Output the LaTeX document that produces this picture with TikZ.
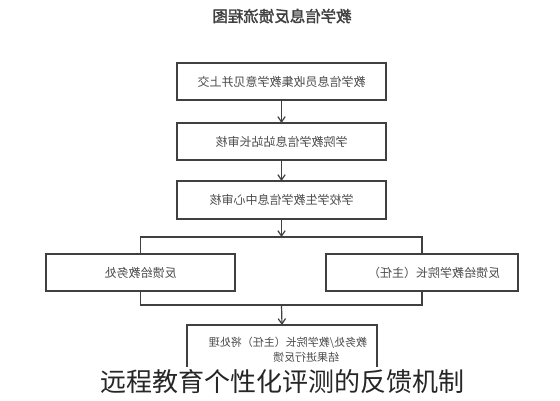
\documentclass[tikz,border=0pt]{standalone}
\usepackage{fontspec}
\usetikzlibrary{arrows.meta}
\newfontfamily\cjk{Noto Sans CJK SC}
\newfontfamily\cjkb[FakeBold=2]{Noto Sans CJK SC}
\newcommand\mirtxt[1]{\scalebox{-1}[1]{#1}}
\begin{document}
\begin{tikzpicture}[x=0.75pt,y=-0.75pt,
  box/.style={draw=black!75,line width=0.9pt,inner sep=0pt,outer sep=0pt,
    minimum height=27.75pt,text=black!70,font=\cjk\fontsize{9pt}{11pt}\selectfont},
  wire/.style={draw=black!75,line width=0.9pt},
  arr/.style={wire,-{Straight Barb[length=4pt,width=5.5pt]}},
  lbl/.style={inner sep=0pt,text=black!70,font=\cjk\fontsize{8.25pt}{10pt}\selectfont}]
\fill[white] (0,0) rectangle (560,400);
\useasboundingbox (0,0) rectangle (560,400);
\node[inner sep=0pt,text=black!75,font=\cjkb\fontsize{11.6pt}{13pt}\selectfont] (title) at (282,16) {\mirtxt{教学信息反馈流程图}};
\node[box,minimum width=156.75pt] (b1) at (281.5,81.5) {\mirtxt{教学信息员收集教学意见并上交}};
\node[box,minimum width=156.75pt] (b2) at (281.5,141.5) {\mirtxt{学院教学信息站站长审核}};
\node[box,minimum width=156.75pt,minimum height=28.5pt] (b3) at (281.5,200) {\mirtxt{学校学生教学信息中心审核}};
\node[box,minimum width=141.75pt] (b4) at (140.5,272.5) {\mirtxt{反馈给教务处}};
\node[box,minimum width=144pt] (b5) at (422,272.5) {\hspace*{18pt}\mirtxt{反馈给教学院长（主任）}};
\node[box,minimum width=142.5pt,minimum height=45pt] (b6) at (282,355) {};
\node[lbl] (t6a) at (288,343) {\mirtxt{教务处/教学院长（主任）将处理}};
\node[lbl] (t6b) at (306,357) {\mirtxt{结果进行反馈}};
\coordinate (j1) at (281.5,237);
\coordinate (j2) at (281.5,305);
\draw[arr] (b1) -- (b2);
\draw[arr] (b2) -- (b3);
\draw[arr] (b3) -- (j1);
\draw[wire] (b4.north) |- (j1) -| (b5.north);
\draw[wire] (b4.south) |- (j2) -| (b5.south);
\draw[arr] (j2) -- (b6.north);
\node[fill=white,inner sep=2pt,text=black!85,font=\cjk\fontsize{19.5pt}{22pt}\selectfont] (cap) at (282,382) {远程教育个性化评测的反馈机制};
\end{tikzpicture}
\end{document}
